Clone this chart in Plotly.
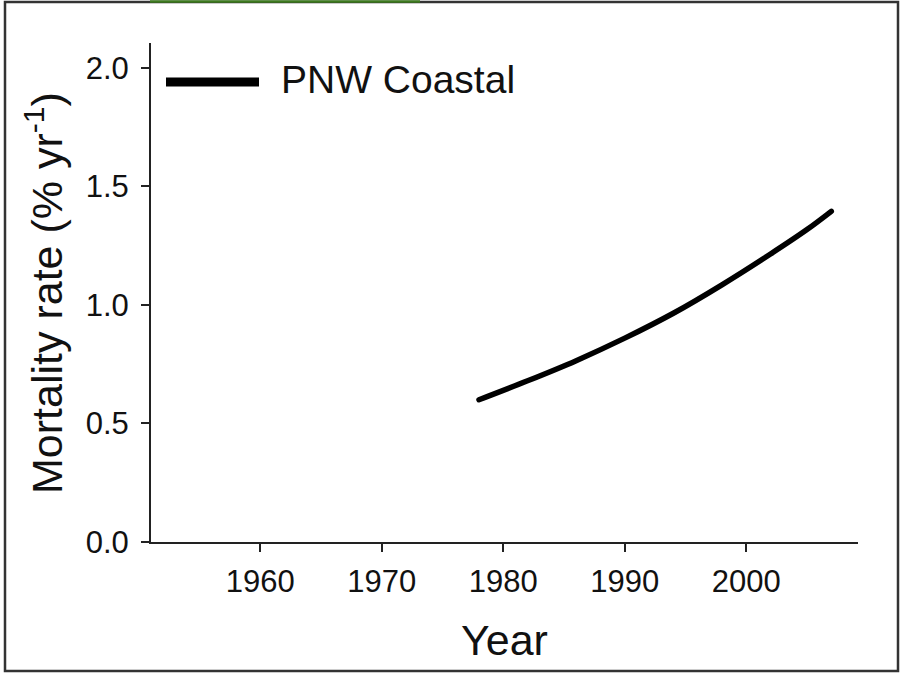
import plotly.graph_objects as go

years = [1978, 1982, 1986, 1990, 1994, 1998, 2002, 2005, 2007]
mortality = [0.60, 0.68, 0.765, 0.86, 0.965, 1.085, 1.215, 1.318, 1.395]
series_name = "PNW Coastal"
x_ticks = [1960, 1970, 1980, 1990, 2000]
y_ticks = [0.0, 0.5, 1.0, 1.5, 2.0]
y_tick_text = ["0.0", "0.5", "1.0", "1.5", "2.0"]

FONT = "Arial, 'Liberation Sans', sans-serif"
W, H = 900, 677
L, R, T, B = 151, 858, 43, 542
pw, ph = R - L, B - T

def px(x):
    return (x - L) / pw

def py(y):
    return (B - y) / ph

fig = go.Figure()
fig.add_trace(go.Scatter(
    x=years, y=mortality, mode="lines", name=series_name,
    line=dict(color="black", width=5.5, shape="spline", smoothing=1.0),
    showlegend=False,
))

axis_common = dict(
    showgrid=False, zeroline=False, showline=True, linecolor="#222", linewidth=2,
    ticks="outside", ticklen=8, tickwidth=2, tickcolor="#222",
    tickfont=dict(family=FONT, size=31, color="#111"),
)
fig.update_xaxes(range=[1951, 2009.2], tickvals=x_ticks, ticklabelstandoff=3, **axis_common)
fig.update_yaxes(range=[0, 2.105], tickvals=y_ticks, ticktext=y_tick_text, ticklabelstandoff=6, **axis_common)

fig.update_layout(
    width=W, height=H,
    margin=dict(l=L, r=W - R, t=T, b=H - B),
    plot_bgcolor="white", paper_bgcolor="white",
    showlegend=False,
    annotations=[
        dict(text="Year", xref="paper", yref="paper", x=0.5, y=py(640),
             xanchor="center", yanchor="middle", showarrow=False,
             font=dict(family=FONT, size=43, color="#111")),
        dict(text="Mortality rate (% yr<sup>-1</sup>)", xref="paper", yref="paper",
             x=px(44), y=py(293), xanchor="center", yanchor="middle", textangle=-90,
             showarrow=False, font=dict(family=FONT, size=43, color="#111")),
        dict(text=series_name, xref="paper", yref="paper", x=px(279), y=py(80),
             xanchor="left", yanchor="middle", showarrow=False,
             font=dict(family=FONT, size=39, color="#111")),
    ],
    shapes=[
        dict(type="line", xref="paper", yref="paper", x0=px(166), x1=px(259),
             y0=py(82), y1=py(82), line=dict(color="black", width=9)),
        dict(type="rect", xref="paper", yref="paper", x0=px(5), x1=px(898),
             y0=py(671), y1=py(2), line=dict(color="#333", width=2.5)),
        dict(type="line", xref="paper", yref="paper", x0=px(150), x1=px(420),
             y0=py(1.5), y1=py(1.5), line=dict(color="#3d7a1e", width=2.5)),
    ],
)

fig.write_html(
    "out.html",
    config={"displayModeBar": False},
    post_script="document.body.style.margin='0';document.body.style.padding='0';"
                "document.querySelectorAll('path.js-line').forEach(function(p){p.style.strokeLinecap='round';});",
)
